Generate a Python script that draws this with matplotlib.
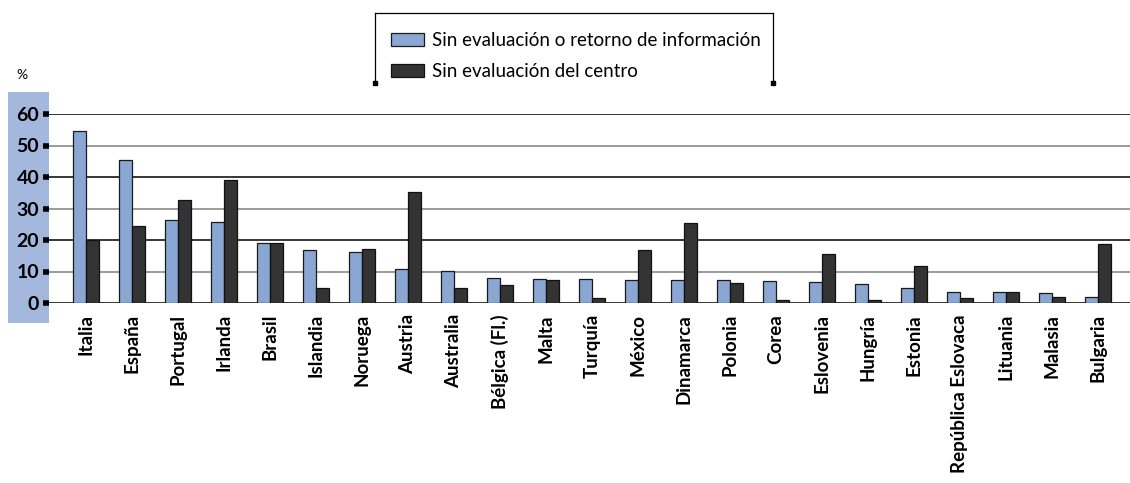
import matplotlib.pyplot as plt
import numpy as np
from matplotlib.patches import Rectangle
from matplotlib.lines import Line2D

paises = ["Italia", "España", "Portugal", "Irlanda", "Brasil", "Islandia", "Noruega",
          "Austria", "Australia", "Bélgica (Fl.)", "Malta", "Turquía", "México",
          "Dinamarca", "Polonia", "Corea", "Eslovenia", "Hungría", "Estonia",
          "República Eslovaca", "Lituania", "Malasia", "Bulgaria"]
sin_eval_retorno = [54.6, 45.4, 26.3, 25.7, 19.0, 16.8, 16.1, 10.7, 10.3, 7.8, 7.6, 7.6, 7.4,
                    7.2, 7.2, 6.9, 6.6, 5.9, 4.8, 3.4, 3.4, 3.1, 2.0]
sin_eval_centro = [20.0, 24.4, 32.7, 39.0, 19.0, 4.9, 17.1, 35.1, 4.9, 5.7, 7.2, 1.7, 16.9,
                   25.3, 6.3, 0.8, 15.5, 1.1, 11.6, 1.5, 3.4, 1.9, 18.6]
yticks = [0, 10, 20, 30, 40, 50, 60]

plt.rcParams['font.family'] = ['Lato', 'DejaVu Sans']

fig = plt.figure(figsize=(11.3, 4.83), dpi=100)
W, H = 1130, 483

# blue band behind y tick labels
fig.patches.append(Rectangle((8 / W, 1 - 323 / H), 41 / W, 231 / H,
                             transform=fig.transFigure, facecolor="#a3b8dc",
                             edgecolor="none", zorder=0))
fig.text(22 / W, 1 - 75 / H, "%", fontsize=10, ha="center", va="center")

ax = fig.add_axes([49 / W, 1 - 303 / H, 1081 / W, 189 / H])
ax.set_zorder(2)
ax.patch.set_alpha(0)

x = np.arange(len(paises))
w = 0.28
ax.bar(x - w / 2, sin_eval_retorno, w, color="#8aa6d2", edgecolor="#1a1a1a",
       linewidth=0.9, zorder=3, label="Sin evaluación o retorno de información")
ax.bar(x + w / 2, sin_eval_centro, w, color="#333333", edgecolor="#111111",
       linewidth=0.9, zorder=3, label="Sin evaluación del centro")

for v in yticks:
    col = "black" if v % 20 == 0 else "#808080"
    ax.axhline(v, color=col, linewidth=1.1, zorder=1)

ax.set_ylim(0, 60)
ax.set_xlim(-0.80, 22.7)
ax.set_yticks(yticks)
ax.set_yticklabels([str(v) for v in yticks], fontsize=14, fontweight="bold")
ax.tick_params(axis="y", length=4, width=4, color="black", pad=3)
ax.set_xticks(x)
ax.set_xticklabels(paises, rotation=90, fontsize=13.5, fontweight="bold")
ax.tick_params(axis="x", length=0, pad=8)
for s in ax.spines.values():
    s.set_visible(False)

# legend with open-bottom box
leg = fig.legend(loc="center", bbox_to_anchor=(576 / W, 1 - 56 / H), frameon=False,
                 fontsize=13.5, handlelength=1.75, handleheight=0.7, labelspacing=0.75,
                 handletextpad=0.4)
for x0, y0, x1, y1 in [(375, 13, 773, 13), (375, 13, 375, 83), (773, 13, 773, 83)]:
    fig.add_artist(Line2D([x0 / W, x1 / W], [1 - y0 / H, 1 - y1 / H],
                          transform=fig.transFigure, color="black", linewidth=0.9))
for xc in (375, 773):
    fig.add_artist(Line2D([xc / W], [1 - 83 / H], transform=fig.transFigure,
                          marker="s", markersize=3.5, color="black"))

fig.savefig("out.png", dpi=100)
